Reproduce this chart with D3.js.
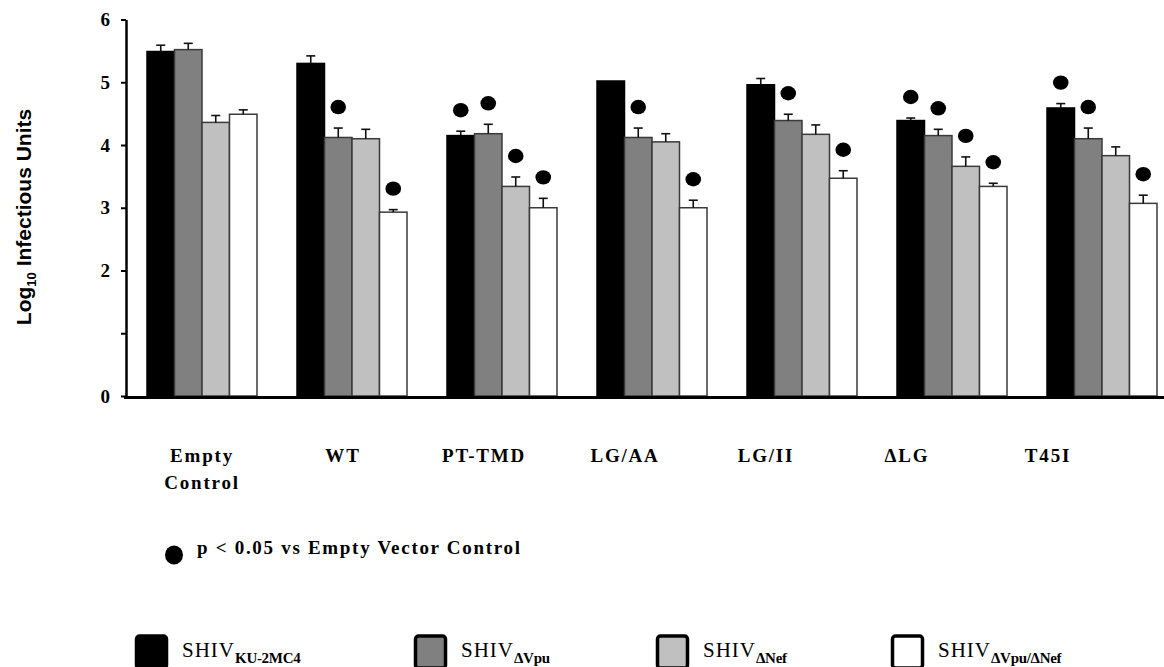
<!DOCTYPE html>
<html>
<head>
<meta charset="utf-8">
<script src="https://cdnjs.cloudflare.com/ajax/libs/d3/7.8.5/d3.min.js"></script>
<style>
	body { margin: 0; background: #fff; }
	svg { display: block; }
	.serif { font-family: "Liberation Serif", "Times New Roman", serif; }
</style>
</head>
<body>
<svg id="chart" width="1164" height="667"></svg>
<script>
// categories and series
var groups = ["Empty Control", "WT", "PT-TMD", "LG/AA", "LG/II", "\u0394LG", "T45I"];
var groupLines = [["Empty", "Control"], ["WT"], ["PT-TMD"], ["LG/AA"], ["LG/II"], ["\u0394LG"], ["T45I"]];
var series = ["ku", "vpu", "nef", "vpunef"];
var seriesSub = ["KU-2MC4", "\u0394Vpu", "\u0394Nef", "\u0394Vpu/\u0394Nef"];

// log10 infectious units
var kuValues     = [5.49, 5.30, 4.15, 5.02, 4.96, 4.39, 4.59];
var vpuValues    = [5.52, 4.12, 4.18, 4.12, 4.39, 4.15, 4.10];
var nefValues    = [4.36, 4.10, 3.34, 4.05, 4.17, 3.66, 3.83];
var vpunefValues = [4.49, 2.93, 3.00, 3.00, 3.47, 3.34, 3.07];

// upper error (SEM)
var kuErr     = [0.10, 0.12, 0.07, 0.00, 0.10, 0.04, 0.07];
var vpuErr    = [0.10, 0.15, 0.15, 0.15, 0.10, 0.10, 0.17];
var nefErr    = [0.11, 0.15, 0.15, 0.13, 0.15, 0.15, 0.14];
var vpunefErr = [0.07, 0.04, 0.15, 0.12, 0.12, 0.05, 0.13];

// p < 0.05 vs empty vector control
var kuSig     = [0, 0, 1, 0, 0, 1, 1];
var vpuSig    = [0, 1, 1, 1, 1, 1, 1];
var nefSig    = [0, 0, 1, 0, 0, 1, 0];
var vpunefSig = [0, 1, 1, 1, 1, 1, 1];

var yTicks = [0, 1, 2, 3, 4, 5, 6];

var values = [kuValues, vpuValues, nefValues, vpunefValues];
var errs = [kuErr, vpuErr, nefErr, vpunefErr];
var sigs = [kuSig, vpuSig, nefSig, vpunefSig];
var colors = ["#000000", "#808080", "#c0c0c0", "#ffffff"];

var data = [];
groups.forEach(function(g, i) {
	series.forEach(function(s, j) {
		data.push({group: g, series: s, value: values[j][i], err: errs[j][i], sig: sigs[j][i], color: colors[j]});
	});
});

var svg = d3.select("#chart");

var x0 = d3.scaleBand().domain(groups).range([147, 1157]).paddingInner(0.2667).paddingOuter(0);
var x1 = d3.scaleBand().domain(series).range([0, x0.bandwidth()]);
// the category labels sit on their own, tighter, spacing
var xl = d3.scalePoint().domain(groups).range([202, 1048]);
var y = d3.scaleLinear().domain([0, 6]).range([396, 19.5]);

// bars
var bars = svg.append("g").attr("class", "bars");
bars.selectAll("rect")
	.data(data)
	.enter().append("rect")
	.attr("x", function(d) { return x0(d.group) + x1(d.series); })
	.attr("y", function(d) { return y(d.value); })
	.attr("width", x1.bandwidth())
	.attr("height", function(d) { return y(0) - y(d.value); })
	.style("fill", function(d) { return d.color; })
	.style("stroke", function(d) { return d.series == "ku" ? "#000" : "#3a3a3a"; })
	.style("stroke-width", 1.5);

// error bars (upper only)
var eb = svg.append("g").attr("class", "errors")
	.selectAll("g")
	.data(data.filter(function(d) { return d.err > 0; }))
	.enter().append("g")
	.attr("transform", function(d) {
		return "translate(" + (x0(d.group) + x1(d.series) + x1.bandwidth() / 2) + ",0)";
	});
eb.append("line")
	.attr("y1", function(d) { return y(d.value); })
	.attr("y2", function(d) { return y(d.value + d.err); })
	.style("stroke", "#111").style("stroke-width", 1.6);
eb.append("line")
	.attr("x1", -4.5).attr("x2", 4.5)
	.attr("y1", function(d) { return y(d.value + d.err); })
	.attr("y2", function(d) { return y(d.value + d.err); })
	.style("stroke", "#111").style("stroke-width", 1.6);

// significance dots
svg.append("g").attr("class", "sig")
	.selectAll("ellipse")
	.data(data.filter(function(d) { return d.sig; }))
	.enter().append("ellipse")
	.attr("cx", function(d) { return x0(d.group) + x1(d.series) + x1.bandwidth() / 2; })
	.attr("cy", function(d) { return y(d.value + d.err) - 21; })
	.attr("rx", 7.8)
	.attr("ry", 7.2)
	.style("fill", "#000");

// y axis
var yAxis = d3.axisLeft(y)
	.tickValues(yTicks)
	.tickSize(5)
	.tickSizeOuter(0)
	.tickPadding(11)
	.tickFormat(function(d) { return d == 1 ? "" : d; });

var ya = svg.append("g")
	.attr("transform", "translate(126,0)")
	.call(yAxis);
ya.select(".domain").style("stroke", "#000").style("stroke-width", 2.5);
ya.selectAll(".tick line").style("stroke", "#000").style("stroke-width", 2);
ya.selectAll(".tick text")
	.attr("class", "serif")
	.style("font-size", "19px")
	.style("font-weight", "bold")
	.style("fill", "#000");

// x axis baseline
svg.append("line")
	.attr("x1", 124).attr("x2", 1164)
	.attr("y1", y(0) + 1.5).attr("y2", y(0) + 1.5)
	.style("stroke", "#000").style("stroke-width", 3);

// category labels
var lab = svg.append("g").attr("class", "xlabels serif")
	.selectAll("text")
	.data(groups)
	.enter().append("text")
	.attr("x", function(d) { return xl(d); })
	.attr("y", 462)
	.attr("text-anchor", "middle")
	.style("font-size", "19px")
	.style("font-weight", "bold")
	.style("letter-spacing", "1.8px");
lab.each(function(d, i) {
	var t = d3.select(this);
	groupLines[i].forEach(function(line, k) {
		t.append("tspan")
			.attr("x", xl(d))
			.attr("dy", k == 0 ? 0 : 27)
			.text(line);
	});
});

// y title
svg.append("text")
	.attr("transform", "translate(31,217) rotate(-90)")
	.attr("text-anchor", "middle")
	.style("font-family", "'Liberation Sans', Arial, sans-serif")
	.style("font-size", "21px")
	.style("font-weight", "bold")
	.call(function(t) {
		t.append("tspan").text("Log");
		t.append("tspan").attr("dy", 5).style("font-size", "13px").text("10");
		t.append("tspan").attr("dy", -5).text(" Infectious Units");
	});

// significance note
svg.append("ellipse")
	.attr("cx", 174).attr("cy", 555)
	.attr("rx", 9).attr("ry", 9.5)
	.style("fill", "#000");
svg.append("text")
	.attr("class", "serif")
	.attr("x", 197).attr("y", 554)
	.style("font-size", "19px")
	.style("font-weight", "bold")
	.style("letter-spacing", "1.7px")
	.text("p < 0.05 vs Empty Vector Control");

// legend
var legendX = [135, 414, 656, 891];
var leg = svg.append("g").attr("class", "legend")
	.selectAll("g")
	.data(series)
	.enter().append("g")
	.attr("transform", function(d, i) { return "translate(" + legendX[i] + ",636)"; });
leg.append("rect")
	.attr("x", 1.5).attr("y", 0)
	.attr("width", 30).attr("height", 32)
	.attr("rx", 3)
	.style("fill", function(d, i) { return colors[i]; })
	.style("stroke", "#000")
	.style("stroke-width", 3.5);
leg.append("text")
	.attr("class", "serif")
	.attr("x", 47).attr("y", 21)
	.style("font-size", "21px")
	.style("letter-spacing", "1px")
	.call(function(t) {
		t.append("tspan").text("SHIV");
		t.append("tspan")
			.attr("dy", 6)
			.style("font-size", "15px")
			.style("font-weight", "bold")
			.style("letter-spacing", "-0.3px")
			.text(function(d, i) { return seriesSub[i]; });
	});
</script>
</body>
</html>
